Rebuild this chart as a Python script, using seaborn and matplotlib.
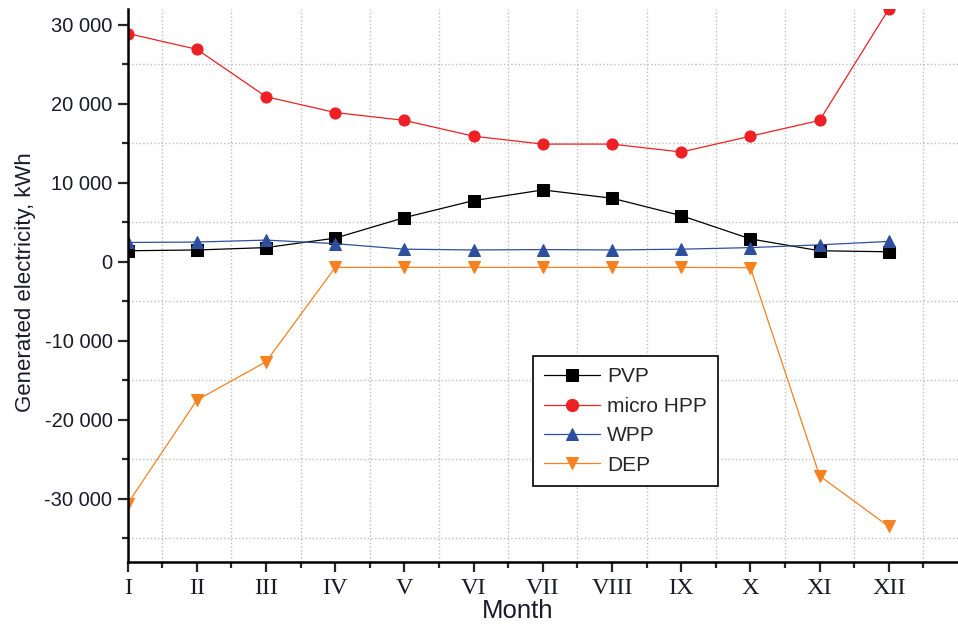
import matplotlib.pyplot as plt
import pandas as pd
import seaborn as sns
from matplotlib.ticker import FuncFormatter, MultipleLocator, FixedLocator

months = ['I', 'II', 'III', 'IV', 'V', 'VI', 'VII', 'VIII', 'IX', 'X', 'XI', 'XII']
month_num = list(range(1, 13))

pvp = [1400, 1500, 1800, 3000, 5600, 7750, 9100, 8050, 5850, 2900, 1400, 1270]
micro_hpp = [28900, 26900, 20900, 18900, 17900, 15900, 14900, 14900, 13900, 15900, 17900, 32000]
wpp = [2450, 2500, 2750, 2300, 1600, 1500, 1550, 1500, 1600, 1800, 2150, 2580]
dep = [-30600, -17500, -12650, -700, -700, -700, -700, -700, -700, -750, -27100, -33500]

series = [
    ('PVP', pvp, '#000000', 's'),
    ('micro HPP', micro_hpp, '#ee2024', 'o'),
    ('WPP', wpp, '#2e4f9e', '^'),
    ('DEP', dep, '#f7811f', 'v'),
]

sns.set_style('ticks')
plt.rcParams['font.family'] = ['Liberation Sans', 'DejaVu Sans']
txt = '#1a1a2a'

fig = plt.figure(figsize=(9.58, 6.26), dpi=100)
ax = fig.add_axes([0.1333, 0.1022, 0.8667, 0.8834])

for name, vals, color, mk in series:
    df = pd.DataFrame({'month': month_num, 'value': vals})
    sns.lineplot(data=df, x='month', y='value', ax=ax, color=color, marker=mk,
                 markersize=8, markeredgecolor=color, linewidth=0.9, label=name)

ax.set_xlim(1, 13)
ax.set_ylim(-38000, 32000)

ax.xaxis.set_major_locator(FixedLocator(month_num))
ax.set_xticklabels(months, fontfamily='Liberation Serif', fontsize=17.5, color=txt)
ax.xaxis.set_minor_locator(MultipleLocator(1, offset=0.5))
ax.yaxis.set_major_locator(MultipleLocator(10000))
ax.yaxis.set_minor_locator(MultipleLocator(10000, offset=5000))


def thousands(y, pos):
    return f'{int(y):,}'.replace(',', ' ')


ax.yaxis.set_major_formatter(FuncFormatter(thousands))
for lab in ax.get_yticklabels():
    lab.set_fontsize(14.5)
    lab.set_color(txt)

ax.tick_params(which='major', length=7.5, width=1.6, direction='out')
ax.tick_params(which='minor', length=4, width=1.6, direction='out')
ax.tick_params(axis='x', which='major', pad=4)
ax.grid(False)
ax.grid(which='minor', linestyle=':', color='#bdbdbd', linewidth=1)

for side in ['top', 'right']:
    ax.spines[side].set_visible(False)
for side in ['left', 'bottom']:
    ax.spines[side].set_linewidth(1.8)
    ax.spines[side].set_color('black')

ax.set_xlabel('Month', fontsize=18.5, color=txt)
ax.xaxis.set_label_coords(0.47, -0.066)
ax.set_ylabel('Generated electricity, kWh', fontsize=16, color=txt)
ax.yaxis.set_label_coords(-0.111, 0.506)

leg = ax.legend(loc='upper left', bbox_to_anchor=(0.488, 0.3725), borderaxespad=0,
                fontsize=15, frameon=True, fancybox=False, edgecolor='black',
                handlelength=2.65, handletextpad=0.35, labelspacing=0.5, borderpad=0.55,
                markerscale=1.1)
leg.get_frame().set_linewidth(1.2)
leg.get_frame().set_alpha(1)

fig.savefig('out.png', dpi=100)
